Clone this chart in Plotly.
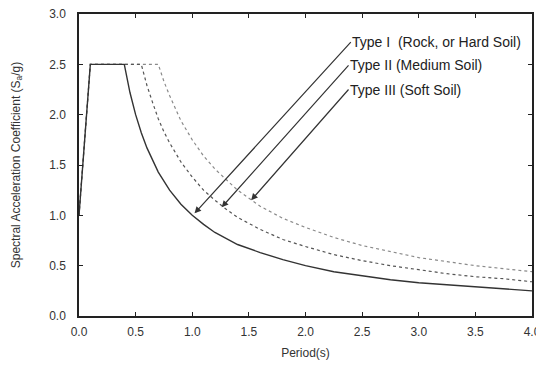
import plotly.graph_objects as go

# Period (s) and spectral acceleration coefficient readings
t_type1 = [0, 0.1, 0.4, 0.45, 0.5, 0.55, 0.6, 0.7, 0.8, 0.9, 1.0, 1.1, 1.2, 1.3, 1.4, 1.6, 1.8, 2.0, 2.25, 2.5, 2.75, 3.0, 3.25, 3.5, 3.75, 4.0]
s_type1 = [1.0, 2.5, 2.5, 2.22, 2.0, 1.82, 1.67, 1.43, 1.25, 1.11, 1.0, 0.91, 0.83, 0.77, 0.71, 0.63, 0.56, 0.50, 0.44, 0.40, 0.36, 0.33, 0.31, 0.29, 0.27, 0.25]

t_type2 = [0, 0.1, 0.55, 0.6, 0.65, 0.7, 0.75, 0.8, 0.9, 1.0, 1.1, 1.2, 1.3, 1.4, 1.6, 1.8, 2.0, 2.25, 2.5, 2.75, 3.0, 3.25, 3.5, 3.75, 4.0]
s_type2 = [1.0, 2.5, 2.5, 2.29, 2.12, 1.96, 1.83, 1.72, 1.53, 1.38, 1.25, 1.15, 1.06, 0.98, 0.86, 0.76, 0.69, 0.61, 0.55, 0.50, 0.46, 0.42, 0.39, 0.37, 0.34]

t_type3 = [0, 0.1, 0.7, 0.75, 0.8, 0.85, 0.9, 1.0, 1.1, 1.2, 1.3, 1.4, 1.6, 1.8, 2.0, 2.25, 2.5, 2.75, 3.0, 3.25, 3.5, 3.75, 4.0]
s_type3 = [1.0, 2.5, 2.5, 2.33, 2.19, 2.06, 1.94, 1.75, 1.59, 1.46, 1.35, 1.25, 1.09, 0.97, 0.88, 0.78, 0.70, 0.64, 0.58, 0.54, 0.50, 0.47, 0.44]

labels = ["Type I  (Rock, or Hard Soil)", "Type II (Medium Soil)", "Type III (Soft Soil)"]
x_ticks = [0, 0.5, 1.0, 1.5, 2.0, 2.5, 3.0, 3.5, 4.0]
y_ticks = [0, 0.5, 1.0, 1.5, 2.0, 2.5, 3.0]

FONT = "Liberation Sans, Arial"

fig = go.Figure()
fig.add_trace(go.Scatter(x=t_type3, y=s_type3, mode="lines",
                         line=dict(color="#8a8a8a", width=1.2, dash="dot")))
fig.add_trace(go.Scatter(x=t_type2, y=s_type2, mode="lines",
                         line=dict(color="#555555", width=1.2, dash="dot")))
fig.add_trace(go.Scatter(x=t_type1, y=s_type1, mode="lines",
                         line=dict(color="#333333", width=1.4)))

# labelled leader arrows: (tip x, tip y, label x, label y)
arrows = [(1.02, 1.02, 2.40, 2.72), (1.26, 1.08, 2.38, 2.49), (1.52, 1.15, 2.38, 2.25)]
for (x, y, ax, ay), lab in zip(arrows, labels):
    fig.add_annotation(x=x, y=y, ax=ax, ay=ay, xref="x", yref="y", axref="x", ayref="y",
                       text=lab, showarrow=True, arrowhead=2, arrowsize=1.1, arrowwidth=1.2,
                       arrowcolor="#333333", xanchor="left", yanchor="middle",
                       borderpad=0, font=dict(family=FONT, size=14, color="#222222"))

axis_common = dict(showline=True, linecolor="#222222", linewidth=1.5, mirror="ticks",
                   ticks="inside", ticklen=4, tickcolor="#222222", tickwidth=1,
                   showgrid=False, zeroline=False, automargin=False,
                   ticklabeloverflow="allow",
                   tickfont=dict(family=FONT, size=12, color="#333333"))

fig.update_xaxes(range=[0, 4], tickvals=x_ticks, tickformat=".1f", ticklabelstandoff=4,
                 title=dict(text="Period(s)", font=dict(family=FONT, size=12, color="#333333"),
                            standoff=10),
                 **axis_common)
fig.update_yaxes(range=[0, 3], tickvals=y_ticks, tickformat=".1f", ticklabelstandoff=9,
                 title=dict(text="Spectral Acceleration Coefficient (S<sub>a</sub>/g)",
                            font=dict(family=FONT, size=12, color="#333333"),
                            standoff=26),
                 **axis_common)

# page body has an 8px default margin, so the figure is sized to fit the 544x367 window
fig.update_layout(width=536, height=359, showlegend=False,
                  margin=dict(l=71, r=12, t=6, b=51),
                  plot_bgcolor="white", paper_bgcolor="white")

fig.write_html("out.html")
